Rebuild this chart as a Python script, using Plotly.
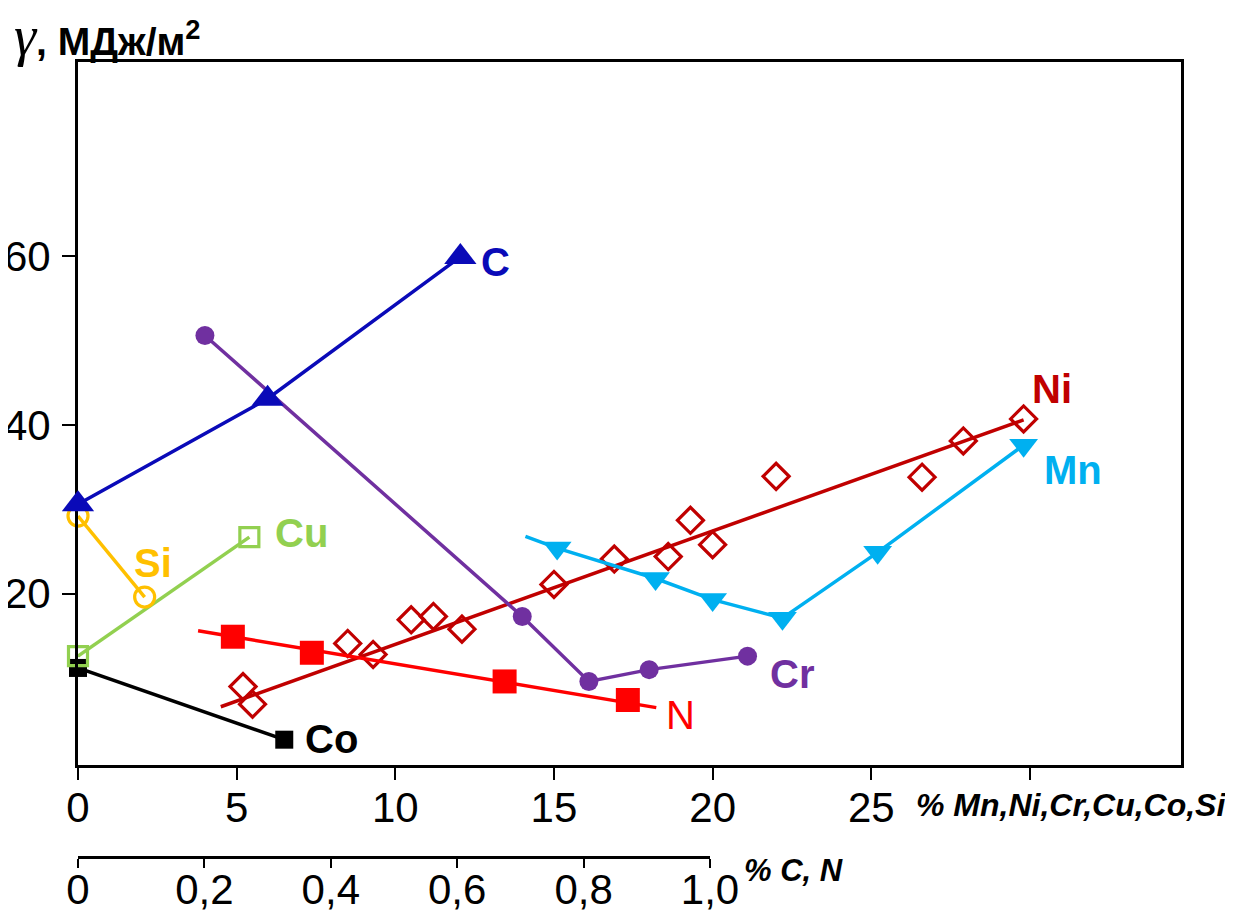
import plotly.graph_objects as go

# ---------------- data ----------------
# Elements on the main scale: % Mn, Ni, Cr, Cu, Co, Si
cr_x = [4.0, 14.0, 16.1, 18.0, 21.1]
cr_y = [50.6, 17.3, 9.6, 11.0, 12.6]

ni_x = [5.2, 5.5, 8.5, 9.3, 10.5, 11.2, 12.1, 15.0, 16.9, 18.6, 19.3, 20.0, 22.0, 26.6, 27.9, 29.8]
ni_y = [9.0, 6.9, 14.1, 12.8, 16.9, 17.3, 15.8, 21.1, 24.1, 24.4, 28.7, 25.8, 33.9, 33.8, 38.1, 40.7]
ni_fit_x = [4.5, 29.8]
ni_fit_y = [6.6, 40.6]

mn_x = [15.1, 18.2, 20.0, 22.2, 25.2, 29.8]
mn_y = [25.4, 21.8, 19.3, 17.1, 24.9, 37.6]
mn_line_x = [14.1, 15.1, 18.2, 20.0, 22.2, 25.2, 29.8]
mn_line_y = [26.8, 25.4, 21.8, 19.3, 17.1, 24.9, 37.6]

cu_x = [0.0, 5.4]
cu_y = [12.6, 26.7]

co_x = [0.0, 6.5]
co_y = [11.2, 2.7]

si_x = [0.0, 2.1]
si_y = [29.2, 19.6]

# Elements on the secondary scale: % C, N
c_x = [0.0, 0.30, 0.605]
c_y = [30.6, 43.1, 59.9]

n_x = [0.245, 0.37, 0.675, 0.87]
n_y = [14.9, 13.0, 9.6, 7.4]
n_fit_x = [0.19, 0.915]
n_fit_y = [15.6, 6.5]

x_ticks = [0, 5, 10, 15, 20, 25, 30]
x_ticktext = ["0", "5", "10", "15", "20", "25", ""]
x2_ticks = [0, 0.2, 0.4, 0.6, 0.8, 1.0]
x2_ticktext = ["0", "0,2", "0,4", "0,6", "0,8", "1,0"]
y_ticks = [20, 40, 60]

# ---------------- styling ----------------
FONT = "Liberation Sans, Arial, sans-serif"
C_BLUE = "#0A0AB8"
NI_RED = "#C00000"
MN_BLUE = "#00B0F0"
CU_GREEN = "#92D050"
SI_ORANGE = "#FFC000"
CR_PURPLE = "#7030A0"
N_RED = "#FF0000"
LW = 3.5

fig = go.Figure()

def add(x, y, color, mode="lines+markers", symbol="circle", size=18, open_=False,
        xaxis="x", lw=LW):
    marker = dict(symbol=symbol, size=size, color=color,
                  line=dict(color=color, width=3.2 if open_ else 0))
    fig.add_trace(go.Scatter(x=x, y=y, mode=mode, xaxis=xaxis, yaxis="y",
                             line=dict(color=color, width=lw), marker=marker,
                             cliponaxis=False, showlegend=False, hoverinfo="skip"))

# Co
add(co_x, co_y, "black", symbol="square", size=18)
# Cu
add(cu_x, cu_y, CU_GREEN, symbol="square-open", size=19, open_=True)
# Si
add(si_x, si_y, SI_ORANGE, symbol="circle-open", size=20, open_=True)
# N (secondary scale)
add(n_fit_x, n_fit_y, N_RED, mode="lines", xaxis="x2")
add(n_x, n_y, N_RED, mode="markers", symbol="square", size=24, xaxis="x2")
# Ni
add(ni_fit_x, ni_fit_y, NI_RED, mode="lines")
add(ni_x, ni_y, NI_RED, mode="markers", symbol="diamond-open", size=20, open_=True)
# Mn
add(mn_line_x, mn_line_y, MN_BLUE, mode="lines")
add(mn_x, mn_y, MN_BLUE, mode="markers", symbol="triangle-down", size=25)
# Cr
add(cr_x, cr_y, CR_PURPLE, symbol="circle", size=19)
# C (secondary scale)
add(c_x, c_y, C_BLUE, symbol="triangle-up", size=28, xaxis="x2")

# ---------------- series labels ----------------
labels = [
    ("C", 13.15, 59.3, C_BLUE, True),
    ("Ni", 30.7, 44.3, NI_RED, True),
    ("Mn", 31.35, 34.6, MN_BLUE, True),
    ("Cu", 7.05, 27.2, CU_GREEN, True),
    ("Si", 2.35, 23.6, SI_ORANGE, True),
    ("Cr", 22.5, 10.5, CR_PURPLE, True),
    ("N", 19.0, 5.6, N_RED, False),
    ("Co", 8.0, 2.8, "black", True),
]
for txt, lx, ly, col, bold in labels:
    fig.add_annotation(x=lx, y=ly, xref="x", yref="y", showarrow=False,
                       text=f"<b>{txt}</b>" if bold else txt,
                       font=dict(family=FONT, size=40, color=col),
                       xanchor="center", yanchor="middle")

# axis titles (paper width 1103 px, height 795 px; plot origin at screen (78, 857))
fig.add_annotation(xref="paper", yref="paper", x=(1228 - 78) / 1103, y=(857 - 805) / 795,
                   showarrow=False,
                   text="<b><i>% Mn,Ni,Cr,Cu,Co,Si</i></b>", xanchor="right", yanchor="middle",
                   font=dict(family=FONT, size=32, color="black"))
fig.add_annotation(xref="paper", yref="paper", x=(742 - 78) / 1103, y=(857 - 870) / 795,
                   showarrow=False,
                   text="<b><i>% C, N</i></b>", xanchor="left", yanchor="middle",
                   font=dict(family=FONT, size=31, color="black"))
fig.add_annotation(xref="paper", yref="paper", x=(12 - 78) / 1103, y=(857 - 36) / 795,
                   showarrow=False,
                   text='<span style="font-family:Liberation Serif;font-size:56px"><i>γ</i></span><b>, МДж/м<sup>2</sup></b>',
                   xanchor="left", yanchor="middle",
                   font=dict(family=FONT, size=39, color="black"))

Y_DOM0 = (857 - 765) / 795
# page body adds an 8 px offset, so the figure is 8 px smaller and margins compensate
fig.update_layout(
    width=1225, height=902,
    margin=dict(l=70, r=52, t=54, b=53, autoexpand=False),
    paper_bgcolor="white", plot_bgcolor="rgba(0,0,0,0)",
    showlegend=False,
    font=dict(family=FONT, color="black"),
    xaxis=dict(range=[0, 34.76], domain=[0, 1], anchor="y", automargin=False,
               tickvals=x_ticks, ticktext=x_ticktext,
               showline=True, linecolor="black", linewidth=3, mirror=True,
               ticks="outside", ticklen=12, tickwidth=2, tickcolor="black",
               ticklabelstandoff=-8,
               showgrid=False, zeroline=False,
               tickfont=dict(family=FONT, size=42, color="black")),
    xaxis2=dict(range=[0, 1.0], domain=[0, 632 / 1103], anchor="free", position=0,
                automargin=False,
                tickvals=x2_ticks, ticktext=x2_ticktext,
                showline=True, linecolor="black", linewidth=3,
                ticks="outside", ticklen=9, tickwidth=2, tickcolor="black",
                ticklabelstandoff=-14,
                showgrid=False, zeroline=False,
                tickfont=dict(family=FONT, size=42, color="black")),
    yaxis=dict(range=[-0.3, 83], domain=[Y_DOM0, 1], anchor="x", automargin=False,
               tickvals=y_ticks,
               showline=True, linecolor="black", linewidth=3, mirror=True,
               ticks="outside", ticklen=13, tickwidth=2, tickcolor="black",
               ticklabelstandoff=3,
               showgrid=False, zeroline=False,
               tickfont=dict(family=FONT, size=42, color="black")),
)

fig.write_html("out.html")
